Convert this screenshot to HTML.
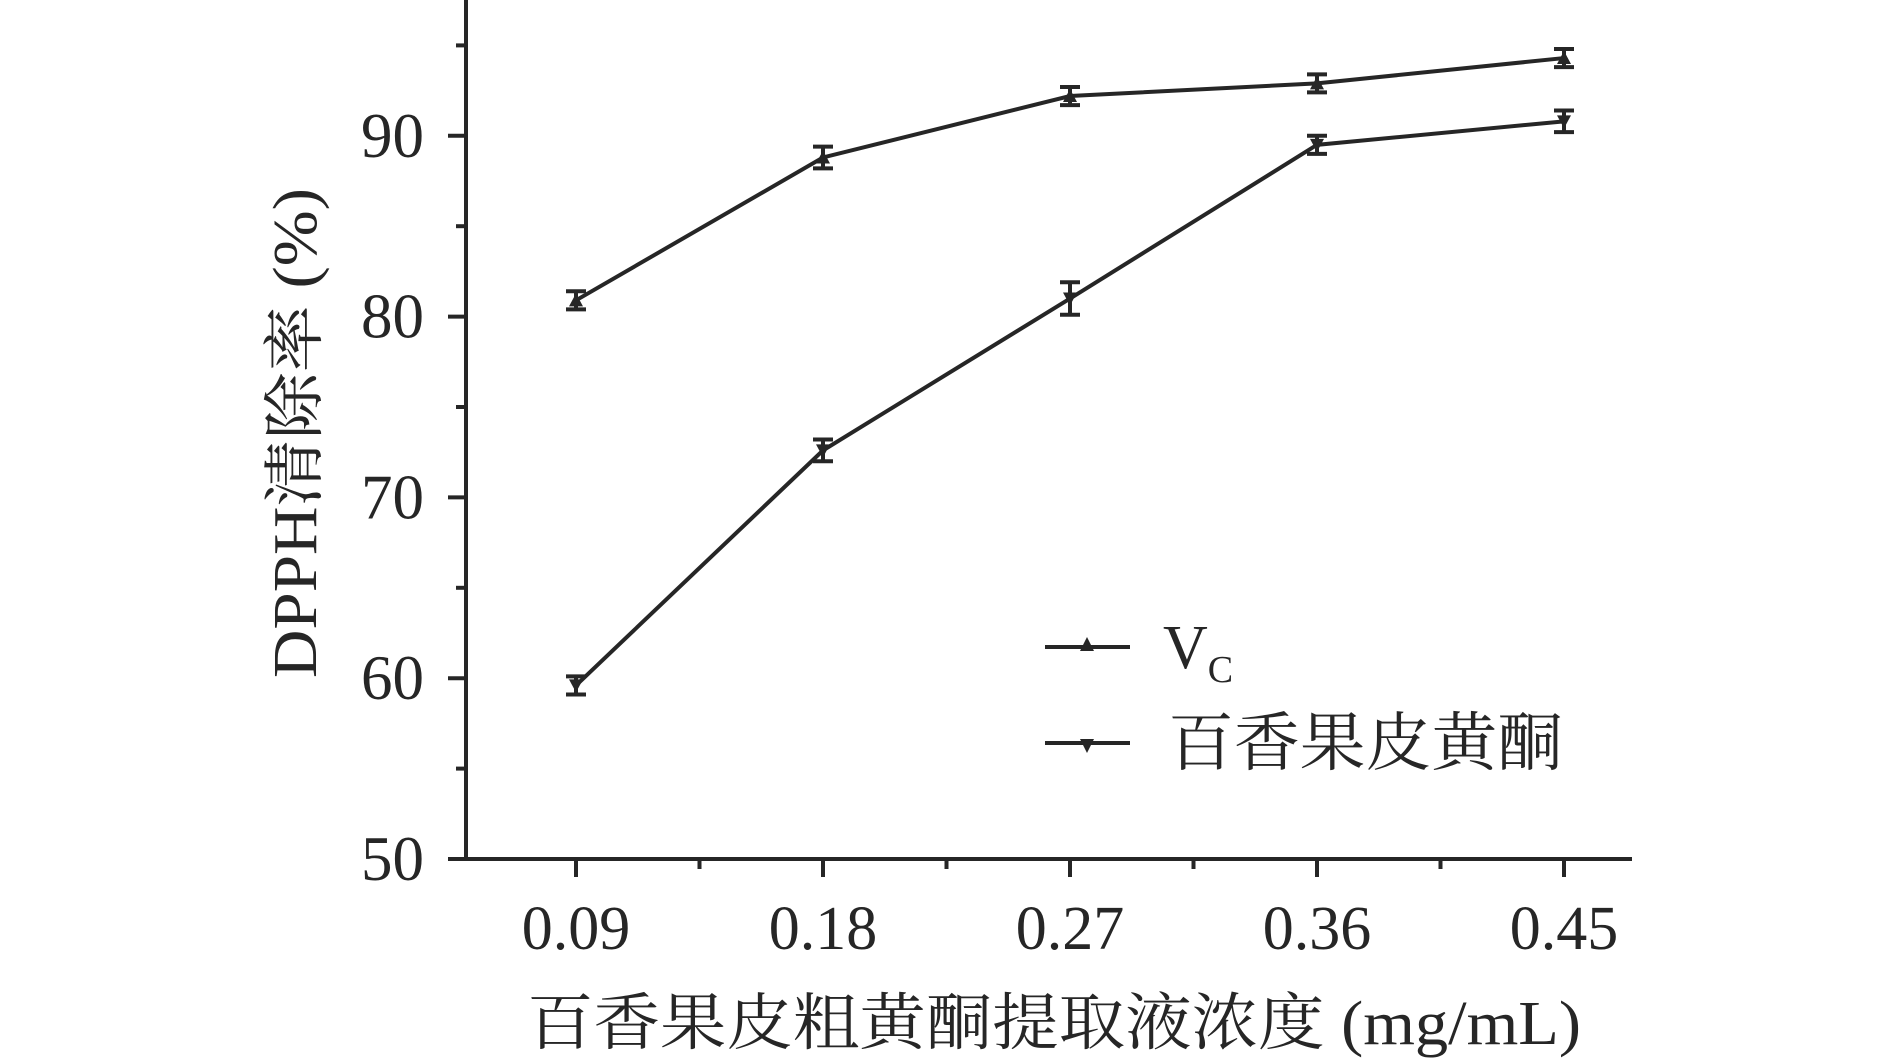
<!DOCTYPE html>
<html><head><meta charset="utf-8"><style>
html,body{margin:0;padding:0;background:#fff;}
svg text{font-family:"Liberation Serif","Noto Serif CJK SC",serif;fill:#262626;}
</style></head><body>
<svg id="chart" width="1890" height="1058" viewBox="0 0 1890 1058" xmlns="http://www.w3.org/2000/svg">
<g id="axes"></g><g id="series"></g>
<text transform="translate(316,433) rotate(-90)" text-anchor="middle" font-size="62" textLength="490" lengthAdjust="spacingAndGlyphs">DPPH清除率 (%)</text>
<text x="1054" y="1044" text-anchor="middle" font-size="62" textLength="1054" lengthAdjust="spacingAndGlyphs">百香果皮粗黄酮提取液浓度 (mg/mL)</text>
<g>
<line x1="1045" y1="647" x2="1130" y2="647" stroke="#262626" stroke-width="4"/>
<path d="M1087 637 L1094 651 L1080 651 Z" fill="#262626"/>
<text x="1163" y="668" font-size="62">V<tspan font-size="38" dy="14">C</tspan></text>
<line x1="1045" y1="743" x2="1130" y2="743" stroke="#262626" stroke-width="4"/>
<path d="M1080 739 L1094 739 L1087 753 Z" fill="#262626"/>
<text x="1168" y="765" font-size="64" textLength="395" lengthAdjust="spacingAndGlyphs">百香果皮黄酮</text>
</g>
</svg>
<script>
const categories=["0.09","0.18","0.27","0.36","0.45"];
const vcValues=[80.9,88.8,92.2,92.9,94.3];
const vcErrors=[0.5,0.6,0.5,0.5,0.5];
const flavValues=[59.6,72.6,81.0,89.5,90.8];
const flavErrors=[0.5,0.6,0.9,0.5,0.6];
const yTicks=[50,60,70,80,90];
const NS="http://www.w3.org/2000/svg";
const X0=466,Y0=859,X1=1632,DX=247;
function xs(i){return 576+i*DX;}
function ys(v){return Y0-(v-50)*18.08;}
function mk(tag,attrs,parent){const e=document.createElementNS(NS,tag);for(const k in attrs)e.setAttribute(k,attrs[k]);parent.appendChild(e);return e;}
const axes=document.getElementById('axes'),ser=document.getElementById('series');
const C="#262626";
let ax=mk('line',{x1:X0,y1:0,x2:X0,y2:Y0+2,stroke:C,'stroke-width':4},axes);


ax=mk('line',{x1:X0-16,y1:Y0,x2:X1,y2:Y0,stroke:C,'stroke-width':4},axes);


for(let v=50;v<=95;v+=5){const major=v%10===0;mk('line',{x1:X0-(major?18:10),y1:ys(v),x2:X0,y2:ys(v),stroke:C,'stroke-width':4},axes);}
yTicks.forEach(v=>{const t=mk('text',{x:X0-42,y:ys(v)+21,'text-anchor':'end','font-size':63},axes);t.textContent=v;

});
categories.forEach((c,i)=>{mk('line',{x1:xs(i),y1:Y0,x2:xs(i),y2:Y0+18,stroke:C,'stroke-width':4},axes);
if(i<categories.length-1){const mx=xs(i)+DX/2;mk('line',{x1:mx,y1:Y0,x2:mx,y2:Y0+10,stroke:C,'stroke-width':4},axes);}
const t=mk('text',{x:xs(i),y:949,'text-anchor':'middle','font-size':62},axes);t.textContent=c;

});
function draw(vals,errs,up,name){
const pts=vals.map((v,i)=>xs(i)+','+ys(v)).join(' ');
const pl=mk('polyline',{points:pts,fill:'none',stroke:C,'stroke-width':4},ser);


vals.forEach((v,i)=>{const x=xs(i),y=ys(v),t=ys(v+errs[i]),b=ys(v-errs[i]);
const g=mk('g',{},ser);


mk('path',{d:`M${x} ${t}V${b}M${x-10} ${t}H${x+10}M${x-10} ${b}H${x+10}`,stroke:C,'stroke-width':4,fill:'none'},g);
mk('path',{d:up?`M${x} ${y-7}L${x+7} ${y+6}L${x-7} ${y+6}Z`:`M${x-7} ${y-6}L${x+7} ${y-6}L${x} ${y+7}Z`,fill:C},g);});
}
draw(vcValues,vcErrors,true,'vc');
draw(flavValues,flavErrors,false,'flavone');
</script>
</body></html>
